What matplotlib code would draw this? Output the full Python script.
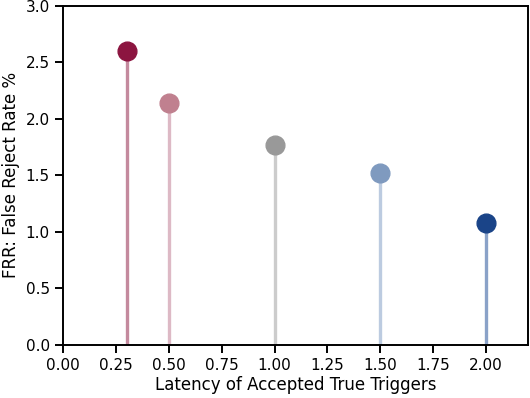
import matplotlib
matplotlib.use("Agg")
import matplotlib.pyplot as plt

# latencia vs FRR
latency = [0.3, 0.5, 1.0, 1.5, 2.0]
frr = [2.60, 2.14, 1.765, 1.52, 1.08]
marker_colors = ["#8c1540", "#c0808f", "#999999", "#7f9abf", "#1a4488"]
stem_colors = ["#c48a9e", "#ddb9c5", "#cccccc", "#bccbe0", "#8aa2c8"]

fig, ax = plt.subplots(figsize=(5.3, 3.98), dpi=100)
fig.subplots_adjust(left=0.119, right=0.997, bottom=0.133, top=0.986)

for x, y, mc, sc in zip(latency, frr, marker_colors, stem_colors):
    ax.vlines(x, 0, y, color=sc, linewidth=2.4, zorder=1)
    ax.plot(x, y, "o", color=mc, markersize=13.5, zorder=2)

ax.set_xlim(0, 2.2)
ax.set_ylim(0, 3.0)
ax.set_xticks([0.0, 0.25, 0.5, 0.75, 1.0, 1.25, 1.5, 1.75, 2.0])
ax.set_xticklabels([f"{v:.2f}" for v in ax.get_xticks()])
ax.set_yticks([0.0, 0.5, 1.0, 1.5, 2.0, 2.5, 3.0])
ax.set_yticklabels([f"{v:.1f}" for v in ax.get_yticks()])
ax.tick_params(labelsize=11, length=6, width=1.4)
for s in ax.spines.values():
    s.set_linewidth(1.4)

ax.set_xlabel("Latency of Accepted True Triggers", fontsize=12, labelpad=2)
ax.set_ylabel("FRR: False Reject Rate %", fontsize=12, labelpad=4)

plt.savefig("out.png", dpi=100, facecolor="white")
